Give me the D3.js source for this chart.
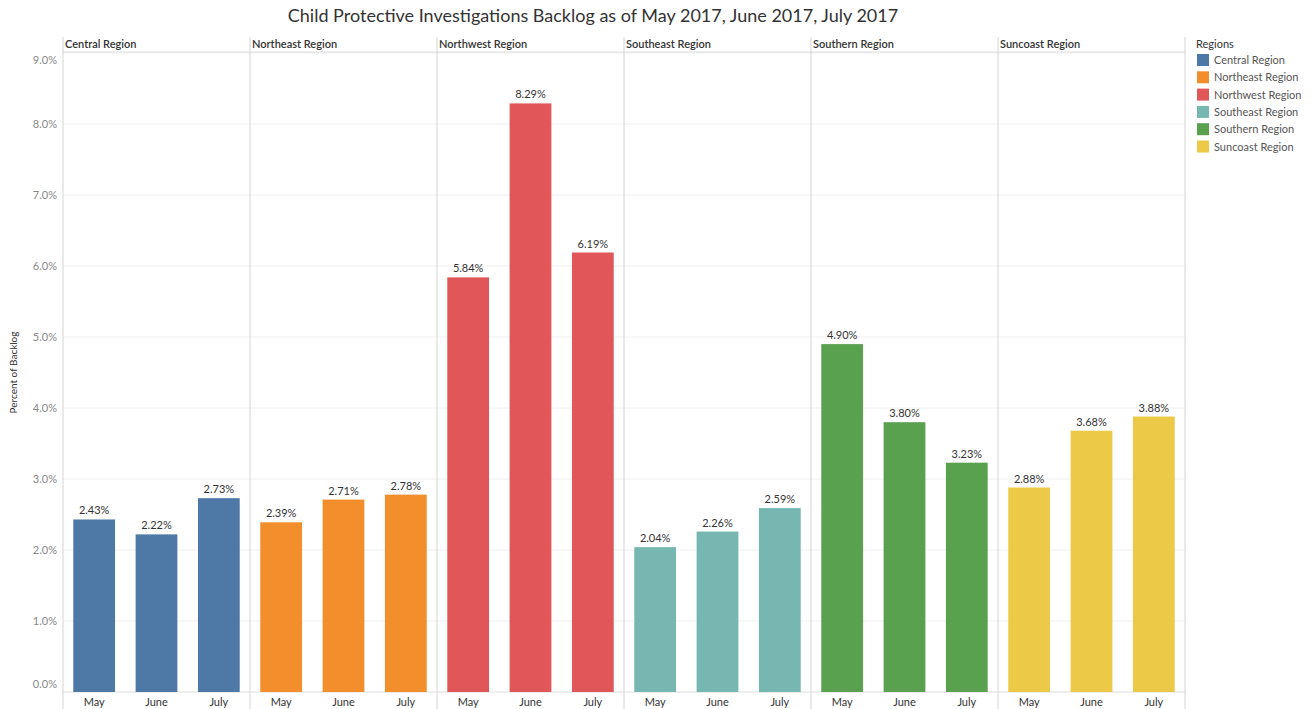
<!DOCTYPE html>
<html>
<head>
<meta charset="utf-8">
<script src="https://cdn.jsdelivr.net/npm/d3@7"></script>
<style>
  body { margin: 0; background: #fff; }
  text { font-family: Lato, "Open Sans", sans-serif; }
</style>
</head>
<body>
<svg id="chart"></svg>
<script>
const regions = ["Central Region", "Northeast Region", "Northwest Region", "Southeast Region", "Southern Region", "Suncoast Region"];
const months = ["May", "June", "July"];
const colors = ["#4e79a7", "#f28e2b", "#e15759", "#76b7b2", "#59a14f", "#edc948"];
const backlog = [
	[2.43, 2.22, 2.73],
	[2.39, 2.71, 2.78],
	[5.84, 8.29, 6.19],
	[2.04, 2.26, 2.59],
	[4.90, 3.80, 3.23],
	[2.88, 3.68, 3.88]
];
const yTicks = [0, 1, 2, 3, 4, 5, 6, 7, 8, 9];

const width = 1310, height = 709;
const plot = { left: 63, right: 1185, top: 53, bottom: 692, headerTop: 37 };

const svg = d3.select("#chart").attr("width", width).attr("height", height);

const xPanel = d3.scaleBand().domain(regions).range([plot.left, plot.right]);
const xMonth = d3.scaleBand().domain(months).range([0, xPanel.bandwidth()]).paddingInner(0.33).paddingOuter(0.165);
const y = d3.scaleLinear().domain([0, 9]).range([plot.bottom, plot.top]);
const color = d3.scaleOrdinal().domain(regions).range(colors);

// title
svg.append("text")
	.attr("x", 593).attr("y", 22)
	.attr("text-anchor", "middle")
	.attr("font-size", 18)
	.attr("fill", "#333")
	.text("Child Protective Investigations Backlog as of May 2017, June 2017, July 2017");

// gridlines
svg.append("g").selectAll("line")
	.data(yTicks.slice(1))
	.join("line")
	.attr("x1", plot.left).attr("x2", plot.right)
	.attr("y1", d => y(d)).attr("y2", d => y(d))
	.attr("stroke", "#f0f0f0");

// y axis
const yAxis = svg.append("g")
	.attr("transform", "translate(" + plot.left + ",0)")
	.call(d3.axisLeft(y).tickValues(yTicks).tickFormat(d => d.toFixed(1) + "%").tickSize(0).tickPadding(6));
yAxis.select(".domain").remove();
yAxis.selectAll("text")
	.attr("font-size", 11)
	.attr("fill", "#888")
	.attr("dy", d => d == 0 ? "-0.4em" : d == 9 ? "0.95em" : "0.32em");

svg.append("text")
	.attr("transform", "translate(17," + ((plot.top + plot.bottom) / 2) + ") rotate(-90)")
	.attr("text-anchor", "middle")
	.attr("font-size", 10)
	.attr("fill", "#333")
	.text("Percent of Backlog");

// header divider and panel separators
svg.append("line")
	.attr("x1", plot.left).attr("x2", plot.right)
	.attr("y1", 52).attr("y2", 52)
	.attr("stroke", "#ddd");
svg.append("g").selectAll("line")
	.data(regions.concat(["end"]))
	.join("line")
	.attr("x1", d => d == "end" ? plot.right : xPanel(d))
	.attr("x2", d => d == "end" ? plot.right : xPanel(d))
	.attr("y1", plot.headerTop).attr("y2", height)
	.attr("stroke", "#d4d4d4");
svg.append("line")
	.attr("x1", plot.left).attr("x2", plot.right)
	.attr("y1", plot.bottom).attr("y2", plot.bottom)
	.attr("stroke", "#ddd");

// panels
const panels = svg.append("g").selectAll("g")
	.data(regions)
	.join("g")
	.attr("transform", d => "translate(" + xPanel(d) + ",0)");

panels.append("text")
	.attr("x", 2).attr("y", 48)
	.attr("font-size", 11)
	.attr("font-weight", 600)
	.attr("fill", "#333")
	.text(d => d);

panels.selectAll("rect")
	.data((d, i) => months.map((m, j) => ({ region: d, month: m, value: backlog[i][j] })))
	.join("rect")
	.attr("x", d => xMonth(d.month))
	.attr("width", xMonth.bandwidth())
	.attr("y", d => y(d.value))
	.attr("height", d => y(0) - y(d.value))
	.attr("fill", d => color(d.region));

panels.selectAll(".val")
	.data((d, i) => months.map((m, j) => ({ month: m, value: backlog[i][j] })))
	.join("text")
	.attr("class", "val")
	.attr("x", d => xMonth(d.month) + xMonth.bandwidth() / 2)
	.attr("y", d => y(d.value) - 5)
	.attr("text-anchor", "middle")
	.attr("font-size", 11)
	.attr("fill", "#333")
	.text(d => d.value.toFixed(2) + "%");

panels.append("g")
	.attr("transform", "translate(0," + plot.bottom + ")")
	.call(d3.axisBottom(xMonth).tickSize(0).tickPadding(6))
	.call(g => g.select(".domain").remove())
	.selectAll("text")
	.attr("font-size", 11)
	.attr("fill", "#333");

// legend
const legend = svg.append("g").attr("transform", "translate(1196,0)");
legend.append("text")
	.attr("x", 0).attr("y", 48)
	.attr("font-size", 11)
	.attr("fill", "#333")
	.text("Regions");
const items = legend.selectAll(".item")
	.data(regions)
	.join("g")
	.attr("class", "item")
	.attr("transform", (d, i) => "translate(1," + (54 + i * 17.3) + ")");
items.append("rect")
	.attr("width", 12).attr("height", 12)
	.attr("fill", d => color(d));
items.append("text")
	.attr("x", 17).attr("y", 10)
	.attr("font-size", 11)
	.attr("fill", "#555")
	.text(d => d);
</script>
</body>
</html>
